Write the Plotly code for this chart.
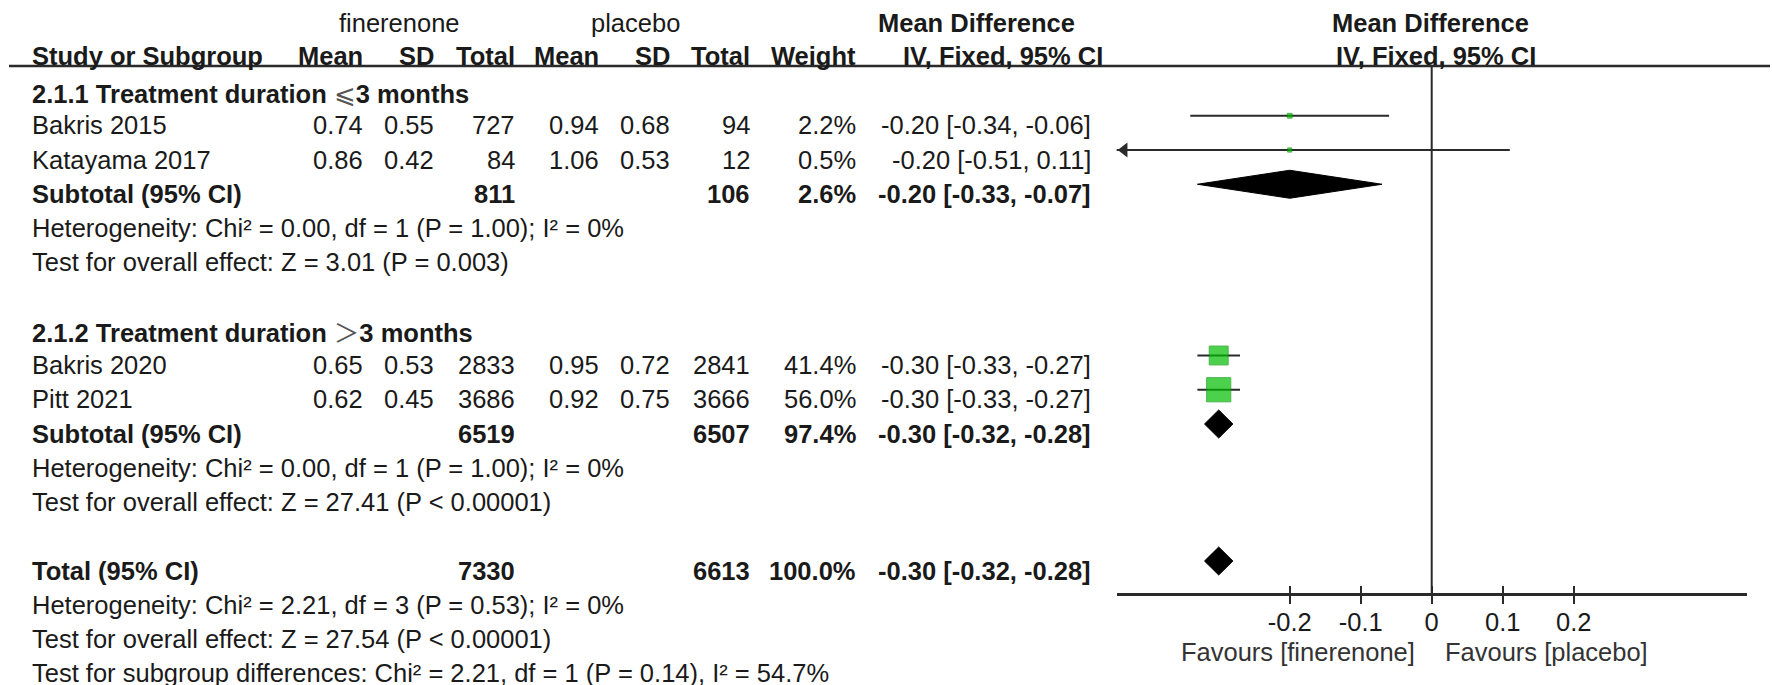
import plotly.graph_objects as go

# ---------------- data ----------------
studies = ["Bakris 2015", "Katayama 2017", "Bakris 2020", "Pitt 2021"]
study_group = [0, 0, 1, 1]
fin_mean = [0.74, 0.86, 0.65, 0.62]
fin_sd = [0.55, 0.42, 0.53, 0.45]
fin_total = [727, 84, 2833, 3686]
pla_mean = [0.94, 1.06, 0.95, 0.92]
pla_sd = [0.68, 0.53, 0.72, 0.75]
pla_total = [94, 12, 2841, 3666]
weight = [2.2, 0.5, 41.4, 56.0]
md = [-0.20, -0.20, -0.30, -0.30]
ci_lo = [-0.34, -0.51, -0.33, -0.33]
ci_hi = [-0.06, 0.11, -0.27, -0.27]

group_titles = ["2.1.1 Treatment duration ", "2.1.2 Treatment duration "]
group_symbols = ["⩽", "＞"]
group_tails = ["3 months", "3 months"]
sub_fin_total = [811, 6519]
sub_pla_total = [106, 6507]
sub_weight = [2.6, 97.4]
sub_md = [-0.20, -0.30]
sub_lo = [-0.33, -0.32]
sub_hi = [-0.07, -0.28]
sub_het = ["Heterogeneity: Chi² = 0.00, df = 1 (P = 1.00); I² = 0%",
           "Heterogeneity: Chi² = 0.00, df = 1 (P = 1.00); I² = 0%"]
sub_test = ["Test for overall effect: Z = 3.01 (P = 0.003)",
            "Test for overall effect: Z = 27.41 (P < 0.00001)"]

tot_fin_total = 7330
tot_pla_total = 6613
tot_weight = 100.0
tot_md = -0.30
tot_lo = -0.32
tot_hi = -0.28
tot_het = "Heterogeneity: Chi² = 2.21, df = 3 (P = 0.53); I² = 0%"
tot_test = "Test for overall effect: Z = 27.54 (P < 0.00001)"
subgroup_diff = "Test for subgroup differences: Chi² = 2.21, df = 1 (P = 0.14), I² = 54.7%"

tick_vals = [-0.2, -0.1, 0, 0.1, 0.2]
tick_labels = ["-0.2", "-0.1", "0", "0.1", "0.2"]
favours_left = "Favours [finerenone]"
favours_right = "Favours [placebo]"
exp_label = "finerenone"
ctl_label = "placebo"

# ---------------- layout constants ----------------
W, H = 1772, 685
FONT = "Liberation Sans, Arial, Helvetica, sans-serif"
FS = 25.5
TXT = "#1a1a1a"
LINE = "#2a2a2a"
GREEN = "rgb(0,190,0)"
GREEN_EDGE = "rgb(0,150,0)"

X_LEFT, X_RIGHT, X_ZERO, PX_UNIT = 1116.7, 1746.7, 1431.7, 710.0
xmin = (X_LEFT - X_ZERO) / PX_UNIT
xmax = (X_RIGHT - X_ZERO) / PX_UNIT
AXIS_Y = 594
HEAD_LINE_Y = 66
MARK_OFF = -8.5
DIAMOND_HALF = 14
TEXT_DY = 1.0

# column right edges (px)
C_NAME = 30
C_FM, C_FSD, C_FT = 365, 436, 517
C_PM, C_PSD, C_PT = 601, 672, 752
C_W = 858
C_MD = 1093
C_MDH = 1105


def row_y(i):
    return 90 + (i - 2) * 34.25


def fmt2(v):
    return f"{v:.2f}"


def ci_text(m, lo, hi):
    return f"{m:.2f} [{lo:.2f}, {hi:.2f}]"


def esc(s):
    return s.replace("<", "&lt;")


fig = go.Figure()
ann = []


def txt(x, y, s, anchor="left", bold=False, xref="paper", xshift=0, color=TXT):
    ann.append(dict(
        x=(x / W) if xref == "paper" else x, y=y + TEXT_DY, xref=xref, yref="y",
        text=s, showarrow=False, xanchor=anchor, yanchor="middle",
        xshift=xshift,
        font=dict(family=FONT, size=FS, color=color, weight=("bold" if bold else "normal")),
    ))


# top headers
txt(399, 22, exp_label, "center")
txt(635, 22, ctl_label, "center")
txt(977, 22, "Mean Difference", "center", bold=True)
txt(1430.5, 22, "Mean Difference", "center", bold=True)
# header row
for x, s in [(C_FM, "Mean"), (C_FSD, "SD"), (C_FT, "Total"), (C_PM, "Mean"),
             (C_PSD, "SD"), (C_PT, "Total"), (C_W, "Weight"), (C_MDH, "IV, Fixed, 95% CI")]:
    txt(x, 55, s, "right", bold=True)
txt(C_NAME, 55, "Study or Subgroup", "left", bold=True)
txt(1436, 55, "IV, Fixed, 95% CI", "center", bold=True)

# build row list
rows = {}
r = 2
for g in range(2):
    rows[r] = ("group", g); r += 1
    for k in range(len(studies)):
        if study_group[k] == g:
            rows[r] = ("study", k); r += 1
    rows[r] = ("subtotal", g); r += 1
    rows[r] = ("het", sub_het[g]); r += 1
    rows[r] = ("test", sub_test[g]); r += 1
    r += 1
rows[r] = ("total", None); r += 1
rows[r] = ("het", tot_het); r += 1
rows[r] = ("test", tot_test); r += 1
rows[r] = ("test", subgroup_diff); r += 1

sq_x, sq_y, sq_s = [], [], []
arrow_x, arrow_y = [], []
ARROW_SIZE = 13

for i, (kind, v) in rows.items():
    y = row_y(i)
    ym = y + MARK_OFF
    if kind == "group":
        s = (f"<b>{group_titles[v]}</b>"
             f"<span style='font-family:Noto Sans CJK SC;font-weight:normal;color:#555'>{group_symbols[v]}</span>"
             f"<b>{group_tails[v]}</b>")
        txt(C_NAME, y, s, "left")
    elif kind == "study":
        k = v
        txt(C_NAME, y, studies[k], "left")
        txt(C_FM, y, fmt2(fin_mean[k]), "right")
        txt(C_FSD, y, fmt2(fin_sd[k]), "right")
        txt(C_FT, y, str(fin_total[k]), "right")
        txt(C_PM, y, fmt2(pla_mean[k]), "right")
        txt(C_PSD, y, fmt2(pla_sd[k]), "right")
        txt(C_PT, y, str(pla_total[k]), "right")
        txt(C_W, y, f"{weight[k]:.1f}%", "right")
        txt(C_MD, y, ci_text(md[k], ci_lo[k], ci_hi[k]), "right")
        fig.add_trace(go.Scatter(x=[ci_lo[k], ci_hi[k]], y=[ym, ym], mode="lines",
                                 line=dict(color=LINE, width=2.2), hoverinfo="skip",
                                 showlegend=False))
        sq_x.append(md[k]); sq_y.append(ym); sq_s.append(4 + 0.36 * weight[k])
        if ci_lo[k] < xmin:
            arrow_x.append(xmin + (0.5774 * ARROW_SIZE) / PX_UNIT)
            arrow_y.append(ym)
    elif kind in ("subtotal", "total"):
        if kind == "subtotal":
            g = v
            vals = (sub_fin_total[g], sub_pla_total[g], sub_weight[g], sub_md[g], sub_lo[g], sub_hi[g])
            name = "Subtotal (95% CI)"
        else:
            vals = (tot_fin_total, tot_pla_total, tot_weight, tot_md, tot_lo, tot_hi)
            name = "Total (95% CI)"
        ft, pt, w, m, lo, hi = vals
        txt(C_NAME, y, name, "left", bold=True)
        txt(C_FT, y, str(ft), "right", bold=True)
        txt(C_PT, y, str(pt), "right", bold=True)
        txt(C_W, y, f"{w:.1f}%", "right", bold=True)
        txt(C_MD, y, ci_text(m, lo, hi), "right", bold=True)
        fig.add_trace(go.Scatter(
            x=[lo, m, hi, m, lo],
            y=[ym, ym - DIAMOND_HALF, ym, ym + DIAMOND_HALF, ym],
            mode="lines", fill="toself", fillcolor="black",
            line=dict(color="black", width=1), hoverinfo="skip", showlegend=False))
    else:
        txt(C_NAME, y, esc(v), "left")

# squares
fig.add_trace(go.Scatter(x=sq_x, y=sq_y, mode="markers",
                         marker=dict(symbol="square", size=sq_s, color=GREEN,
                                     line=dict(color=GREEN_EDGE, width=1)),
                         hoverinfo="skip", showlegend=False))
# arrows for truncated CIs
if arrow_x:
    fig.add_trace(go.Scatter(x=arrow_x, y=arrow_y, mode="markers", cliponaxis=False,
                             marker=dict(symbol="triangle-left", size=ARROW_SIZE, color=LINE,
                                         line=dict(width=0)),
                             hoverinfo="skip", showlegend=False))
# dummy for overlay axis (inner tick halves)
fig.add_trace(go.Scatter(x=[0], y=[AXIS_Y], xaxis="x2", yaxis="y", mode="markers",
                         marker=dict(opacity=0), hoverinfo="skip", showlegend=False))

# favours labels
ann.append(dict(x=0, y=652, xref="x", yref="y", text=favours_left, showarrow=False,
                xanchor="right", yanchor="middle", xshift=-15,
                font=dict(family=FONT, size=FS, color="#333")))
ann.append(dict(x=0, y=652, xref="x", yref="y", text=favours_right, showarrow=False,
                xanchor="left", yanchor="middle", xshift=11,
                font=dict(family=FONT, size=FS, color="#333")))

shapes = [
    dict(type="line", xref="paper", yref="y", x0=9 / W, x1=1770 / W,
         y0=HEAD_LINE_Y, y1=HEAD_LINE_Y, line=dict(color=LINE, width=2.5)),
    dict(type="line", xref="x", yref="y", x0=0, x1=0, y0=HEAD_LINE_Y, y1=AXIS_Y,
         line=dict(color=LINE, width=2)),
]

axis_pos = 1 - AXIS_Y / H
common = dict(range=[xmin, xmax], tickvals=tick_vals, showgrid=False, zeroline=False,
              fixedrange=True, tickwidth=2, tickcolor=LINE, ticklen=8)
fig.update_layout(
    width=W, height=H, margin=dict(l=0, r=0, t=0, b=0),
    paper_bgcolor="white", plot_bgcolor="white",
    showlegend=False,
    xaxis=dict(domain=[X_LEFT / W, X_RIGHT / W], anchor="free", position=axis_pos,
               showline=True, linecolor=LINE, linewidth=2.5, ticks="outside",
               ticktext=tick_labels, tickfont=dict(family=FONT, size=FS, color=TXT),
               ticklabelstandoff=-3, **common),
    xaxis2=dict(overlaying="x", anchor="free", position=axis_pos, showline=False,
                ticks="inside", showticklabels=False, **common),
    yaxis=dict(domain=[0, 1], range=[H, 0], visible=False, fixedrange=True),
    annotations=ann, shapes=shapes,
)

fig.write_html(
    "out.html",
    config={"displayModeBar": False},
    post_script="document.body.style.margin='0';document.body.style.overflow='hidden';",
)
